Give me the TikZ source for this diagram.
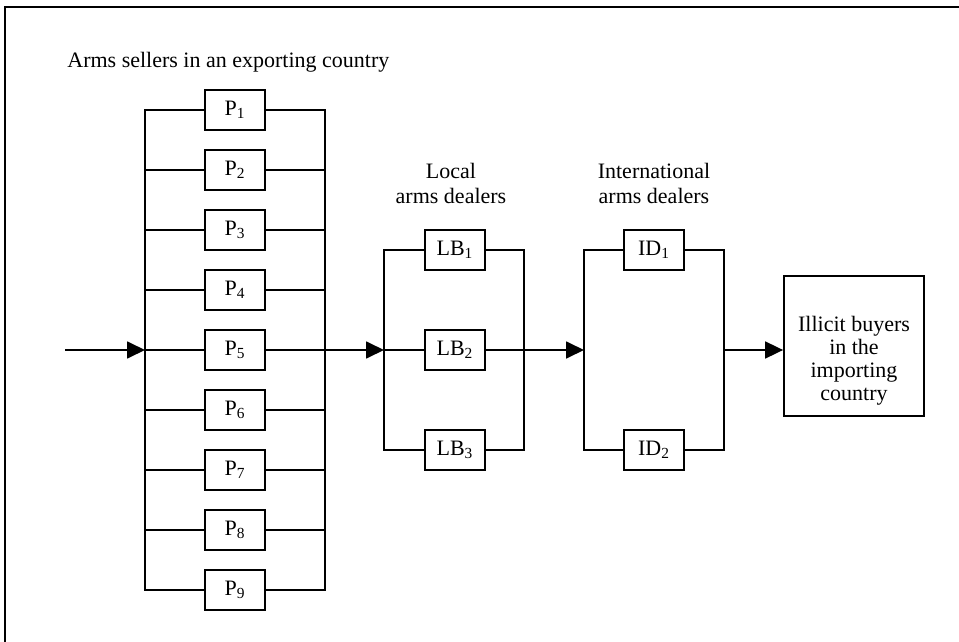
\documentclass[tikz,border=0pt]{standalone}
\usepackage{fontspec}
\setmainfont{Liberation Serif}
\usetikzlibrary{positioning}
\usetikzlibrary{arrows.meta}

\tikzset{
  unitbox/.style={draw, line width=0.9pt, minimum width=30pt, minimum height=20pt, inner sep=0pt},
  buyerbox/.style={draw, line width=0.9pt, minimum width=70pt, minimum height=70pt, inner sep=0pt},
  wire/.style={line width=0.9pt},
  flow/.style={line width=0.9pt, -{Triangle[length=9pt,width=8.5pt]}}
}

\begin{document}
\begin{tikzpicture}[x=0.5pt, y=-0.5pt, every node/.style={font=\fontsize{11}{12.5}\selectfont}]
  \useasboundingbox (0,0) rectangle (959,642);

  % Frame
  \draw[line width=1pt] (959,7) -- (5,7) -- (5,642);

  % Headings
  \node[anchor=base west, inner sep=0pt] (sellers) at (67,68) {Arms sellers in an exporting country};
  \node[align=center] (local) at (451,183) {Local\\arms dealers};
  \node[align=center] (intl) at (654,183) {International\\arms dealers};

  % Junction points
  \coordinate (start) at (65,350);
  \coordinate (pin) at (145,350);
  \coordinate (pout) at (325,350);
  \coordinate (lbin) at (384,350);
  \coordinate (lbout) at (524,350);
  \coordinate (idin) at (584,350);
  \coordinate (idout) at (724,350);

  % Sellers P1..P9
  \foreach \i in {1,...,9}
    \node[unitbox] (p\i) at (235,50+60*\i) {P\textsubscript{\i}};
  \draw[wire] (p1.west) -| (pin) |- (p9.west);
  \draw[wire] (p1.east) -| (pout) |- (p9.east);
  \foreach \i in {2,...,8} {
    \draw[wire] (p\i.west) -- (p\i.west -| pin);
    \draw[wire] (p\i.east) -- (p\i.east -| pout);
  }

  % Local dealers
  \node[unitbox] (lb1) at (455,250) {LB\textsubscript{1}};
  \node[unitbox] (lb2) at (455,350) {LB\textsubscript{2}};
  \node[unitbox] (lb3) at (455,450) {LB\textsubscript{3}};
  \draw[wire] (lb1.west) -| (lbin) |- (lb3.west);
  \draw[wire] (lb1.east) -| (lbout) |- (lb3.east);
  \draw[wire] (lbin) -- (lb2.west);
  \draw[wire] (lb2.east) -- (lbout);

  % International dealers
  \node[unitbox] (id1) at (654,250) {ID\textsubscript{1}};
  \node[unitbox] (id2) at (654,450) {ID\textsubscript{2}};
  \draw[wire] (id1.west) -| (idin) |- (id2.west);
  \draw[wire] (id1.east) -| (idout) |- (id2.east);

  % Buyers
  \node[buyerbox] (buyers) at (854,346) {};
  \node[align=center, font=\fontsize{11}{11.5}\selectfont] (buyerstext) at (854,361)
    {Illicit buyers\\in the\\importing\\country};

  % Flow arrows
  \draw[flow] (start) -- (pin);
  \draw[flow] (pout) -- (lbin);
  \draw[flow] (lbout) -- (idin);
  \draw[flow] (idout) -- (buyers.west |- idout);
\end{tikzpicture}
\end{document}
